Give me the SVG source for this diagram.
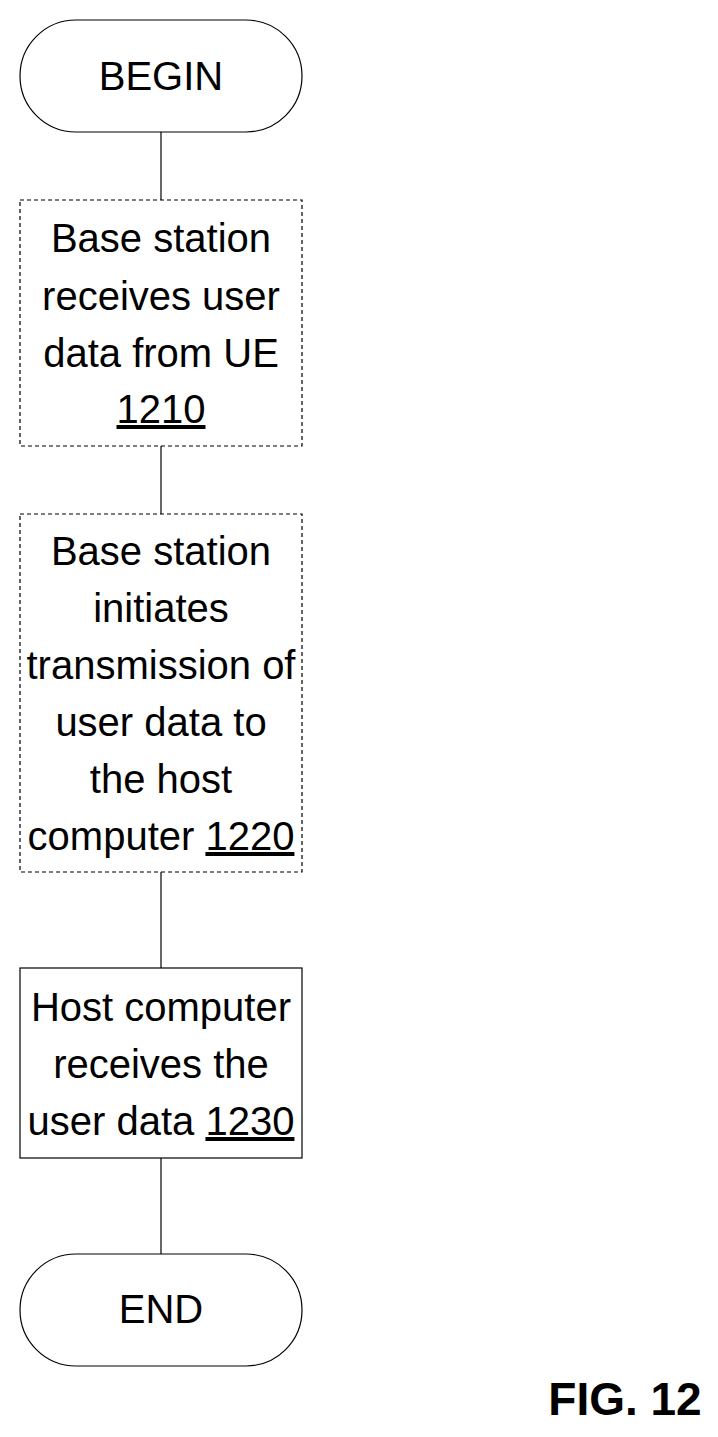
<svg xmlns="http://www.w3.org/2000/svg" width="718" height="1437" viewBox="0 0 718 1437">
<style>
.s{fill:#fff;stroke:#000;stroke-width:1.2}
.d{stroke-dasharray:4,3}
text{font-family:"Liberation Sans Narrow","Liberation Sans",Arial,sans-serif;font-size:40px;text-anchor:middle;fill:#000}
.u{text-decoration:underline}
</style>
<rect width="718" height="1437" fill="#fff"/>
<g id="connectors" stroke="#000" stroke-width="1.2">
<line x1="161" y1="132" x2="161" y2="200"/>
<line x1="161" y1="446" x2="161" y2="514"/>
<line x1="161" y1="872" x2="161" y2="968"/>
<line x1="161" y1="1158" x2="161" y2="1254"/>
</g>
<g id="begin"><rect class="s" x="20" y="20" width="282" height="112" rx="56"/><text x="161" y="90">BEGIN</text></g>
<g id="n1210"><rect class="s d" x="20" y="200" width="282" height="246"/>
<text x="161" y="252">Base station</text><text x="161" y="310">receives user</text><text x="161" y="367">data from UE</text><text x="161" y="423" class="u">1210</text></g>
<g id="n1220"><rect class="s d" x="20" y="514" width="282" height="358"/>
<text x="161" y="565">Base station</text><text x="161" y="622">initiates</text><text x="161" y="679">transmission of</text><text x="161" y="736">user data to</text><text x="161" y="793">the host</text><text x="161" y="850">computer <tspan class="u">1220</tspan></text></g>
<g id="n1230"><rect class="s" x="20" y="968" width="282" height="190"/>
<text x="161" y="1021">Host computer</text><text x="161" y="1078">receives the</text><text x="161" y="1135">user data <tspan class="u">1230</tspan></text></g>
<g id="end"><rect class="s" x="20" y="1254" width="282" height="112" rx="56"/><text x="161" y="1323">END</text></g>
<text x="625" y="1415" style="font-weight:bold;font-size:46px">FIG. 12</text>
</svg>
